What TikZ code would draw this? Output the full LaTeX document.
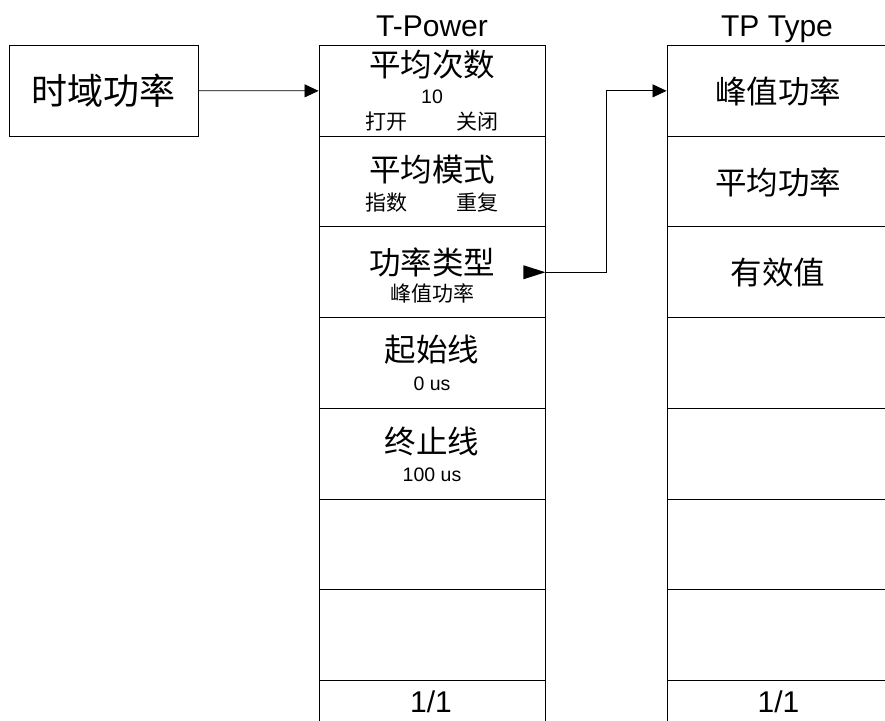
\documentclass[tikz,border=0pt]{standalone}
\usepackage{fontspec}
\setmainfont{Liberation Sans}
\newfontfamily\cjk{Noto Sans CJK SC}
\usetikzlibrary{arrows.meta,calc}
\begin{document}
\begin{tikzpicture}[x=1pt,y=-1pt,
  cell/.style={draw,line width=0.9pt,rectangle,inner sep=0pt,minimum width=226pt,minimum height=90.7pt},
  rcell/.style={draw,line width=0.9pt,rectangle,inner sep=0pt,minimum width=220pt,minimum height=90.7pt},
  big/.style={inner sep=0pt,font=\cjk\fontsize{31.5}{33}\selectfont},
  small/.style={inner sep=0pt,font=\cjk\fontsize{21}{23}\selectfont},
  num/.style={inner sep=0pt,font=\fontsize{19.5}{21}\selectfont},
  title/.style={inner sep=0pt,anchor=base,font=\fontsize{30}{32}\selectfont},
  page/.style={inner sep=0pt,font=\fontsize{30}{32}\selectfont},
  conn/.style={line width=0.8pt},
  arr/.style={conn,-{Triangle[length=14pt,width=13pt]}}
]
\useasboundingbox (0,0) rectangle (885,720);
\clip (0,0) rectangle (885,720);
% left box
\node[draw,line width=0.9pt,rectangle,inner sep=0pt,minimum width=189pt,minimum height=90.5pt,
      font=\cjk\fontsize{36}{38}\selectfont] (tp) at (103.5,90.75) {时域功率};
% middle column
\node[title] (tpower) at (432,36.5) {T-Power};
\foreach \i in {1,...,8} {
  \node[cell] (m\i) at (432,{45.5+90.7*(\i-0.5)}) {};
}
% right column
\node[title] (tptype) at (777,36.5) {TP Type};
\foreach \i in {1,...,8} {
  \node[rcell] (r\i) at (777,{45.5+90.7*(\i-0.5)}) {};
}
% middle labels
\node[big] (l1) at (432,65) {平均次数};
\node[num] (l1n) at (432,97) {10};
\node[small] (l1a) at (386,122) {打开};
\node[small] (l1b) at (477,122) {关闭};
\node[big] (l2) at (432,170) {平均模式};
\node[small] (l2a) at (386,203) {指数};
\node[small] (l2b) at (477,203) {重复};
\node[big] (l3) at (432,262) {功率类型};
\node[small] (l3a) at (432,293) {峰值功率};
\node[big] (l4) at (432,350) {起始线};
\node[num] (l4n) at (432,384) {0 us};
\node[big] (l5) at (432,441) {终止线};
\node[num] (l5n) at (432,474.5) {100 us};
\node[page] (mp) at (431,702) {1/1};
% right labels
\node[big] (q1) at (778,91) {峰值功率};
\node[big] (q2) at (778,182) {平均功率};
\node[big] (q3) at (778,273) {有效值};
\node[page] (rp) at (778.5,702) {1/1};
% connectors
\draw[arr] (tp.east) -- (m1.west);
\coordinate (mk) at (m3.east);
\fill (mk) -- ++(-22,-7) -- ++(0,14) -- cycle;
\draw[arr] (mk) -- ++(61,0) |- (r1.west);
\end{tikzpicture}
\end{document}
